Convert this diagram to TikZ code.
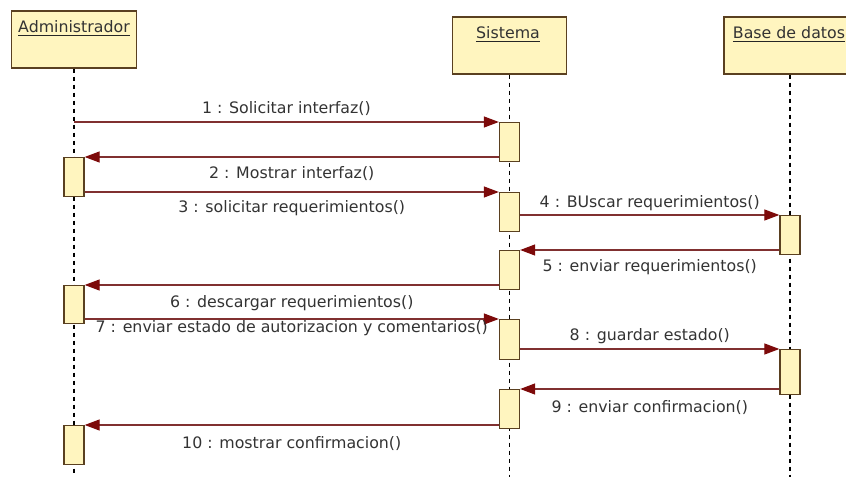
\documentclass[tikz,border=0pt]{standalone}
\usepackage{fontspec}
\setmainfont{DejaVu Sans}
\usetikzlibrary{positioning,arrows.meta}
\definecolor{umlfill}{HTML}{FFF5BF}
\definecolor{umlline}{HTML}{5A4020}
\definecolor{msgline}{HTML}{803030}
\definecolor{msghead}{HTML}{7D0A0A}

\begin{document}
\begin{tikzpicture}[
  x=1pt, y=-1pt,
  font=\fontsize{15.8}{19}\selectfont,
  every node/.style={inner sep=0pt},
  head/.style ={draw=umlline, line width=1.3pt, fill=umlfill, minimum height=57pt},
  act/.style  ={draw=umlline, line width=1.3pt, fill=umlfill, minimum width=20pt, anchor=north},
  life/.style ={line width=1.6pt, dash pattern=on 4pt off 4pt},
  uline/.style={line width=1.1pt, black!85},
  msg/.style  ={-{Triangle[length=15pt, width=11pt, color=msghead]}, draw=msgline, line width=1.2pt},
  lbl/.style  ={text=black!80, anchor=base},
]
\useasboundingbox (0,0) rectangle (846,478);

% objects
\node[head, minimum width=125pt] (adm) at (74,39.5) {};
\node[head, minimum width=114pt] (sis) at (509.5,45.5) {};
\node[head, minimum width=132pt] (bd)  at (790,45.5) {};
\node[lbl] (admname) at (74,33)  {Administrador};
\node[lbl] (sisname) at (508,39) {Sistema};
\node[lbl] (bdname)  at (789,39) {Base de datos};
\draw[uline] ([yshift=-2.5pt]admname.base west) -- ([yshift=-2.5pt]admname.base east);
\draw[uline] ([yshift=-2.5pt]sisname.base west) -- ([yshift=-2.5pt]sisname.base east);
\draw[uline] ([yshift=-2.5pt]bdname.base west)  -- ([yshift=-2.5pt]bdname.base east);

% lifelines
\coordinate (admend) at (74,475);
\coordinate (sisend) at (509.5,477);
\coordinate (bdend)  at (790,477);
\draw[life] (adm.south) -- (admend);
\draw[life] (sis.south) -- (sisend);
\draw[life] (bd.south)  -- (bdend);

% activations
\node[act, minimum height=39pt] (a1) at (74,157) {};
\node[act, minimum height=38pt] (a2) at (74,285) {};
\node[act, minimum height=39pt] (a3) at (74,425) {};
\node[act, minimum height=39pt] (s1) at (509.5,122) {};
\node[act, minimum height=39pt] (s2) at (509.5,192) {};
\node[act, minimum height=39pt] (s3) at (509.5,250) {};
\node[act, minimum height=40pt] (s4) at (509.5,319) {};
\node[act, minimum height=39pt] (s5) at (509.5,389) {};
\node[act, minimum height=39pt] (b1) at (790,215) {};
\node[act, minimum height=45pt] (b2) at (790,349) {};

% messages
\coordinate (m1start) at (74,122);
\draw[msg] (m1start) -- (s1.north west)
  node[lbl, midway, yshift=8pt] (l1) {1 : Solicitar interfaz()};
\draw[msg] (s1.west |- a1.north) -- (a1.north east)
  node[lbl, midway, yshift=-22pt] (l2) {2 : Mostrar interfaz()};
\draw[msg] (a1.east |- s2.north) -- (s2.north west)
  node[lbl, midway, yshift=-21pt] (l3) {3 : solicitar requerimientos()};
\draw[msg] (s2.east |- b1.north) -- (b1.north west)
  node[lbl, midway, yshift=7pt] (l4) {4 : BUscar requerimientos()};
\draw[msg] (b1.west |- s3.north) -- (s3.north east)
  node[lbl, midway, yshift=-22pt] (l5) {5 : enviar requerimientos()};
\draw[msg] (s3.west |- a2.north) -- (a2.north east)
  node[lbl, midway, yshift=-23pt] (l6) {6 : descargar requerimientos()};
\draw[msg] (a2.east |- s4.north) -- (s4.north west)
  node[lbl, midway, yshift=-14pt] (l7) {7 : enviar estado de autorizacion y comentarios()};
\draw[msg] (s4.east |- b2.north) -- (b2.north west)
  node[lbl, midway, yshift=8pt] (l8) {8 : guardar estado()};
\draw[msg] (b2.west |- s5.north) -- (s5.north east)
  node[lbl, midway, yshift=-23pt] (l9) {9 : enviar confirmacion()};
\draw[msg] (s5.west |- a3.north) -- (a3.north east)
  node[lbl, midway, yshift=-23pt] (l10) {10 : mostrar confirmacion()};

\end{tikzpicture}
\end{document}
